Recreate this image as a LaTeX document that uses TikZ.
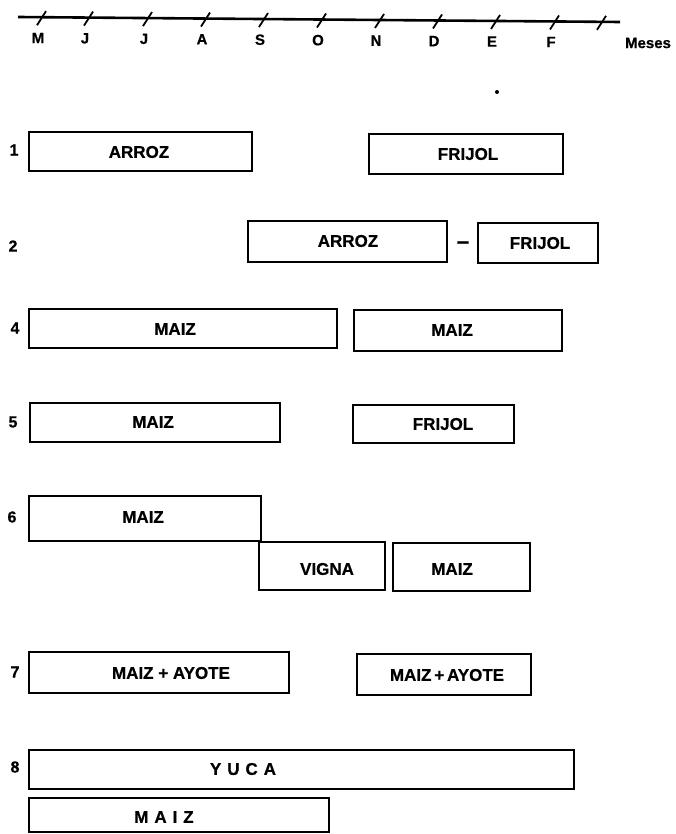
\documentclass[tikz,border=0pt]{standalone}
\usepackage{fontspec}
\setmainfont{Liberation Sans}[BoldFeatures={FakeBold=0.6}]
\newcommand{\cropbox}[5]{\node[cbox, minimum width={(#4)-(#2)}, minimum height={(#5)-(#3)}] (#1) at ({((#2)+(#4))/2},{((#3)+(#5))/2}) {};}
\begin{document}
\begin{tikzpicture}[x=1pt,y=-1pt,
  cbox/.style={draw, line width=1.8pt, inner sep=0pt, outer sep=0pt, anchor=center},
  lbl/.style={font=\bfseries\fontsize{17}{17}\selectfont, inner sep=0pt},
  spaced/.style={font=\bfseries\fontsize{17}{17}\selectfont\addfontfeature{LetterSpace=35}, inner sep=0pt},
  rowl/.style={font=\bfseries\fontsize{16}{16}\selectfont, inner sep=0pt},
  axl/.style={font=\bfseries\fontsize{15}{15}\selectfont, inner sep=0pt},
  dashl/.style={font=\bfseries\fontsize{22}{22}\selectfont, inner sep=0pt},
  axline/.style={line width=2.6pt},
  tickline/.style={line width=1.8pt}]
\useasboundingbox (0,0) rectangle (676,834);
% axis
\coordinate (ax0) at (18,17);
\coordinate (ax1) at (620,22);
\draw[axline] (ax0) -- (ax1);
\foreach \x in {42,89,148,206,264,322,380,438,496,555,602} {
  \pgfmathsetmacro{\yy}{17+(\x-18)*5/602}
  \draw[tickline] ({\x-5},{\yy+8}) -- ({\x+4},{\yy-6});
}
\foreach \x/\t [count=\i] in {42/M,89/J,148/J,206/A,264/S,322/O,380/N,438/D,496/E,555/F} {
  \pgfmathsetmacro{\yy}{38+(\x-42)*4/514}
  \node[axl] (mes\i) at ({\x-4},\yy) {\t};
}
\node[axl] (meses) at (648,43) {Meses};
\fill (497,92) circle (2);
% row labels
\node[rowl] (r1) at (14,150) {1};
\node[rowl] (r2) at (13,246) {2};
\node[rowl] (r4) at (15,328) {4};
\node[rowl] (r5) at (13,422) {5};
\node[rowl] (r6) at (12,517) {6};
\node[rowl] (r7) at (15,672) {7};
\node[rowl] (r8) at (15,767) {8};
% row 1
\cropbox{a1}{29}{132}{252}{171}
\node[lbl] (a1t) at (139,152) {ARROZ};
\cropbox{f1}{369}{134}{563}{174}
\node[lbl] (f1t) at (468,154) {FRIJOL};
% row 2
\cropbox{a2}{248}{221}{447}{262}
\node[lbl] (a2t) at (348,241) {ARROZ};
\node[dashl] (d2) at (463,245) {–};
\cropbox{f2}{478}{223}{598}{263}
\node[lbl] (f2t) at (540,243) {FRIJOL};
% row 4
\cropbox{m4a}{29}{309}{337}{348}
\node[lbl] (m4at) at (175,329) {MAIZ};
\cropbox{m4b}{354}{310}{562}{351}
\node[lbl] (m4bt) at (452,330) {MAIZ};
% row 5
\cropbox{m5a}{30}{403}{280}{442}
\node[lbl] (m5at) at (153,422) {MAIZ};
\cropbox{f5}{353}{405}{514}{443}
\node[lbl] (f5t) at (443,424) {FRIJOL};
% row 6
\cropbox{m6a}{29}{496}{261}{541}
\node[lbl] (m6at) at (143,517) {MAIZ};
\cropbox{v6}{259}{542}{385}{590}
\node[lbl] (v6t) at (327,569) {VIGNA};
\cropbox{m6b}{393}{543}{530}{591}
\node[lbl] (m6bt) at (452,569) {MAIZ};
% row 7
\cropbox{ma7a}{29}{652}{289}{693}
\node[lbl] (ma7at) at (171,673) {MAIZ + AYOTE};
\cropbox{ma7b}{357}{654}{531}{695}
\node[lbl] (ma7bt) at (447,675) {MAIZ\,+\,AYOTE};
% row 8
\cropbox{y8}{29}{750}{574}{789}
\node[spaced] (y8t) at (243,769) {YUCA};
\cropbox{m8}{29}{798}{329}{832}
\node[spaced] (m8t) at (164,817) {MAIZ};
\end{tikzpicture}
\end{document}
